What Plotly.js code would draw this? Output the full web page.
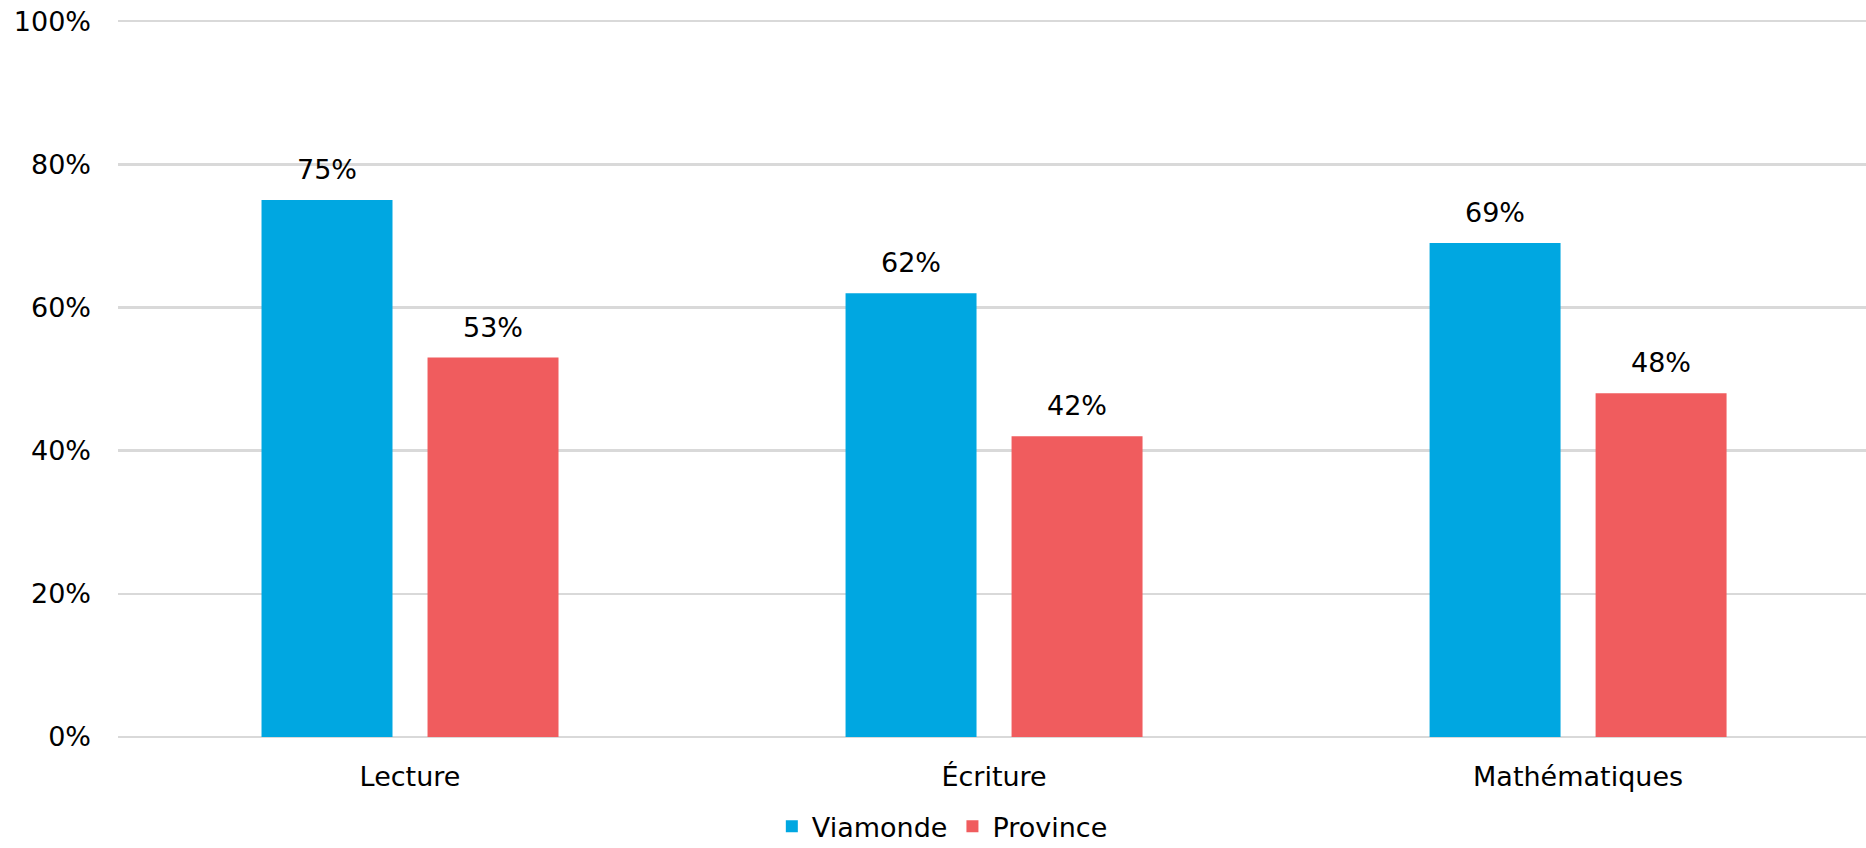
<!DOCTYPE html>
<html>
<head>
<meta charset="utf-8">
<script src="https://cdn.plot.ly/plotly-3.0.1.min.js"></script>
<style>
  html, body { margin: 0; padding: 0; background: #fff; }
  #chart { width: 1866px; height: 848px; }
</style>
</head>
<body>
<div id="chart"></div>
<script>
const categories = ["Lecture", "Écriture", "Mathématiques"];
const viamonde = [0.75, 0.62, 0.69];
const province = [0.53, 0.42, 0.48];
const seriesNames = ["Viamonde", "Province"];
const yTickVals = [0, 0.2, 0.4, 0.6, 0.8, 1.0];
const yTickText = ["0%", "20%", "40%", "60%", "80%", "100%"];

const colors = ["#00A7E1", "#F05C5E"];
const FONT = "DejaVu Sans, Verdana, sans-serif";
const FS = 27;

const traces = [viamonde, province].map((vals, i) => ({
  type: "bar",
  name: seriesNames[i],
  x: categories,
  y: vals,
  marker: { color: colors[i], line: { width: 0 } },
  hoverinfo: "skip"
}));

const offsets = [-83, 83];
const annotations = [];
[viamonde, province].forEach((vals, i) => {
  vals.forEach((v, j) => {
    annotations.push({
      x: categories[j], y: v, xref: "x", yref: "y",
      text: Math.round(v * 100) + "%",
      showarrow: false, xshift: offsets[i], yshift: 13,
      yanchor: "bottom",
      font: { family: FONT, size: FS, color: "#000" }
    });
  });
});

const layout = {
  width: 1866, height: 848,
  margin: { l: 118, r: 0, t: 20, b: 111, pad: 0, autoexpand: false },
  paper_bgcolor: "#fff", plot_bgcolor: "#fff",
  font: { family: FONT, size: FS, color: "#000" },
  barmode: "group",
  bargap: 0.4315,
  bargroupgap: 0.211,
  showlegend: true,
  legend: {
    orientation: "h",
    xref: "container", yref: "container",
    x: 0.505, xanchor: "center",
    y: 0.025, yanchor: "middle",
    font: { family: FONT, size: FS, color: "#000" },
    itemwidth: 30,
    bgcolor: "rgba(0,0,0,0)"
  },
  xaxis: {
    type: "category",
    range: [-0.5, 2.493],
    showgrid: false,
    showline: false,
    zeroline: false,
    ticks: "",
    ticklabelstandoff: 21,
    tickfont: { family: FONT, size: FS, color: "#000" },
    automargin: false,
    fixedrange: true
  },
  yaxis: {
    range: [0, 1.0015],
    tickvals: yTickVals,
    ticktext: yTickText,
    showgrid: true,
    gridcolor: "#D9D9D9",
    gridwidth: 2.5,
    zeroline: true,
    zerolinecolor: "#D9D9D9",
    zerolinewidth: 2.5,
    showline: false,
    ticks: "",
    ticklabelstandoff: 26,
    tickfont: { family: FONT, size: FS, color: "#000" },
    automargin: false,
    fixedrange: true
  },
  annotations: annotations
};

Plotly.newPlot("chart", traces, layout, { displayModeBar: false, staticPlot: true });
</script>
</body>
</html>
